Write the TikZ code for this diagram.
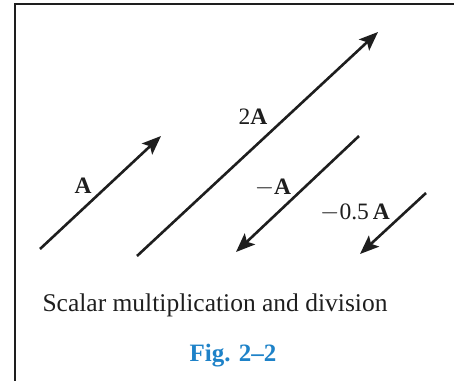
\documentclass[tikz,border=0pt]{standalone}
\usepackage{fontspec}
\setmainfont{Liberation Serif}
\usetikzlibrary{arrows.meta}
\definecolor{ink}{RGB}{30,30,30}
\definecolor{figblue}{RGB}{30,130,200}
\begin{document}
\begin{tikzpicture}[x=1pt,y=-1pt,
  vec/.style={line width=2.6pt,draw=ink,-{Stealth[length=19pt,width=15pt,inset=4pt]}},
  lbl/.style={text=ink,font=\fontsize{23.5}{26}\selectfont,inner sep=0pt},
  frame/.style={line width=2.8pt,draw=ink}]
\useasboundingbox (0,0) rectangle (454,380);
\draw[frame] (15,382) -- (15,4) -- (456,4);
% vector endpoints
\coordinate (a0) at (40,249);   \coordinate (a1) at (161,136);
\coordinate (b0) at (137,256);  \coordinate (b1) at (378,32);
\coordinate (c0) at (359,136);  \coordinate (c1) at (236,252);
\coordinate (d0) at (426,193);  \coordinate (d1) at (360,254);
\draw[vec] (a0) -- (a1);
\draw[vec] (b0) -- (b1);
\draw[vec] (c0) -- (c1);
\draw[vec] (d0) -- (d1);
% labels
\node[lbl] (la) at (83,186) {\textbf{A}};
\node[lbl] (lb) at (253,117) {2\textbf{A}};
\node[lbl] (lc) at (273,188) {$-$\textbf{A}};
\node[lbl] (ld) at (355,213) {$-$0.5\,\textbf{A}};
\node[text=ink,font=\fontsize{25.5}{28}\selectfont,inner sep=0pt] (cap) at (215,305) {Scalar multiplication and division};
\node[text=figblue,font=\fontsize{25}{28}\selectfont\bfseries,inner sep=0pt] (fig) at (233,356) {Fig. 2–2};
\end{tikzpicture}
\end{document}
